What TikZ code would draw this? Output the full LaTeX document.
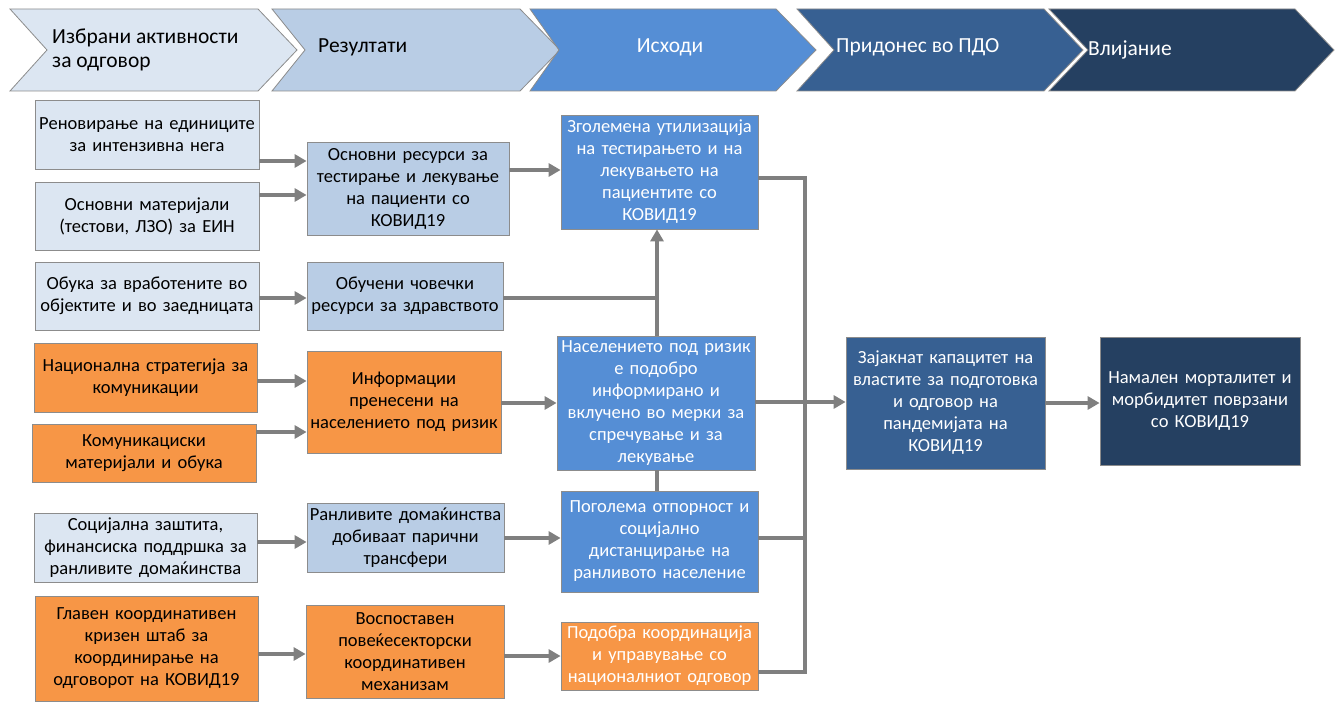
\documentclass[tikz,border=0pt]{standalone}
\usepackage{fontspec}
\setmainfont{Carlito}
\usetikzlibrary{arrows.meta,calc}
\definecolor{cLight}{HTML}{DCE6F2}
\definecolor{cMid}{HTML}{B9CDE5}
\definecolor{cBlue}{HTML}{558ED5}
\definecolor{cSteel}{HTML}{376092}
\definecolor{cNavy}{HTML}{254061}
\definecolor{cOrange}{HTML}{F79646}
\definecolor{cLine}{HTML}{7F7F7F}
\definecolor{cEdge}{HTML}{8C8C8C}
\newcommand\bx[7]{%
  \pgfmathsetmacro\bxw{#4-#2}\pgfmathsetmacro\bxh{#5-#3}\pgfmathsetmacro\bxt{#4-#2+2}%
  \node[box,#6,minimum width=\bxw pt,minimum height=\bxh pt,text width=\bxt pt] (#1) at ({(#2+#4)/2},{(#3+#5)/2}) {#7};}
\newcommand\chev[7]{%
  \filldraw[chevron,fill=#6] (#1,9) -- (#3,9) -- (#4,50) -- (#3,91) -- (#1,91) -- (#2,50) -- cycle;
  \node[#7] (#5) at (#2,50) {};}
\tikzset{
  box/.style={draw=cEdge,line width=0.8pt,inner sep=0pt,align=center,
    font=\fontsize{18.5}{22}\selectfont},
  light/.style={fill=cLight,text=black},
  mid/.style={fill=cMid,text=black},
  blue/.style={fill=cBlue,text=white},
  orange/.style={fill=cOrange,text=black},
  orangew/.style={fill=cOrange,text=white},
  steel/.style={fill=cSteel,text=white},
  navy/.style={fill=cNavy,text=white},
  chevron/.style={draw=cEdge,line width=0.8pt},
  htext/.style={font=\fontsize{21.5}{24}\selectfont,inner sep=0pt,align=left},
  link/.style={draw=cLine,line width=4pt},
  arr/.style={link,-{Triangle[length=12pt,width=13pt]}},
}
\begin{document}
\begin{tikzpicture}[x=1pt,y=-1pt]
\useasboundingbox (0,0) rectangle (1337,703);
% header chevrons
\chev{10}{47}{258}{297}{h1}{cLight}{}
\chev{272}{305}{520}{560}{h2}{cMid}{}
\chev{530}{559}{776}{816}{h3}{cBlue}{}
\chev{797}{834}{1044}{1083}{h4}{cSteel}{}
\chev{1049}{1088}{1295}{1334}{h5}{cNavy}{}
\node[htext,anchor=west,text=black] (t1) at (52,50) {Избрани активности\\за одговор};
\node[htext,anchor=west,text=black] (t2) at (318,47) {Резултати};
\node[htext,text=white] (t3) at (670,47) {Исходи};
\node[htext,anchor=west,text=white] (t4) at (836,47) {Придонес во ПДО};
\node[htext,anchor=west,text=white] (t5) at (1088,50) {Влијание};
% activities
\bx{A1}{36}{100}{258}{169}{light}{Реновирање на единиците\\за интензивна нега}
\bx{A2}{36}{182}{258}{250}{light}{Основни материјали\\(тестови, ЛЗО) за ЕИН}
\bx{A3}{36}{262}{258}{330}{light}{Обука за вработените во\\објектите и во заедницата}
\bx{A4}{35}{343}{256}{412}{orange}{Национална стратегија за\\комуникации}
\bx{A5}{33}{424}{255}{482}{orange}{Комуникациски\\материјали и обука}
\bx{A6}{35}{513}{256}{582}{light}{Социјална заштита,\\финансиска поддршка за\\ранливите домаќинства}
\bx{A7}{36}{596}{257}{701}{orange}{Главен координативен\\кризен штаб за\\координирање на\\одговорот на КОВИД19}
% results
\bx{R1}{308}{142}{508}{235}{mid}{Основни ресурси за\\тестирање и лекување\\на пациенти со\\КОВИД19}
\bx{R2}{308}{262}{502}{330}{mid}{Обучени човечки\\ресурси за здравството}
\bx{R3}{308}{351}{500}{453}{orange}{Информации\\пренесени на\\населението под ризик}
\bx{R4}{308}{503}{503}{572}{mid}{Ранливите домаќинства\\добиваат парични\\трансфери}
\bx{R5}{307}{605}{503}{698}{orange}{Воспоставен\\повеќесекторски\\координативен\\механизам}
% outcomes
\bx{O1}{562}{115}{757}{229}{blue}{Зголемена утилизација\\на тестирањето и на\\лекувањето на\\пациентите со\\КОВИД19}
\bx{O2}{558}{336}{754}{470}{blue}{Населението под ризик\\е подобро\\информирано и\\вклучено во мерки за\\спречување и за\\лекување}
\bx{O3}{562}{491}{757}{592}{blue}{Поголема отпорност и\\социјално\\дистанцирање на\\ранливото население}
\bx{O4}{562}{622}{757}{690}{orangew}{Подобра координација\\и управување со\\националниот одговор}
% PDO and impact
\bx{S1}{847}{337}{1044}{469}{steel}{Зајакнат капацитет на\\властите за подготовка\\и одговор на\\пандемијата на\\КОВИД19}
\bx{S2}{1101}{337}{1299}{465}{navy}{Намален морталитет и\\морбидитет поврзани\\со КОВИД19}
% connectors
\coordinate (j1) at (657,298);
\coordinate (b1) at (805,178);
\coordinate (b2) at (805,672);
\coordinate (b3) at (805,538);
\draw[arr] (A1.east |- 0,161) -- (R1.west |- 0,161);
\draw[arr] (A2.east |- 0,195) -- (R1.west |- 0,195);
\draw[arr] (A3.east |- 0,298) -- (R2.west |- 0,298);
\draw[arr] (A4.east |- 0,381) -- (R3.west |- 0,381);
\draw[arr] (A5.east |- 0,432) -- (R3.west |- 0,432);
\draw[arr] (A6.east |- 0,542) -- (R4.west |- 0,542);
\draw[arr] (A7.east |- 0,654) -- (R5.west |- 0,654);
\draw[arr] (R1.east |- 0,170) -- (O1.west |- 0,170);
\draw[arr] (R3.east |- 0,403) -- (O2.west |- 0,403);
\draw[arr] (R4.east |- 0,538) -- (O3.west |- 0,538);
\draw[arr] (R5.east |- 0,656) -- (O4.west |- 0,656);
\draw[link] (R2.east |- j1) -- (j1);
\draw[arr] (O2.north -| j1) -- (O1.south -| j1);
\draw[link] (O2.south -| j1) -- (O3.north -| j1);
\draw[link] (O1.east |- b1) -- (b1) -- (b2) -- (O4.east |- b2);
\draw[link] (O3.east |- b3) -- (b3);
\draw[arr] (O2.east |- 0,402) -- (S1.west |- 0,402);
\draw[arr] (S1.east |- 0,403) -- (S2.west |- 0,403);
\end{tikzpicture}
\end{document}
